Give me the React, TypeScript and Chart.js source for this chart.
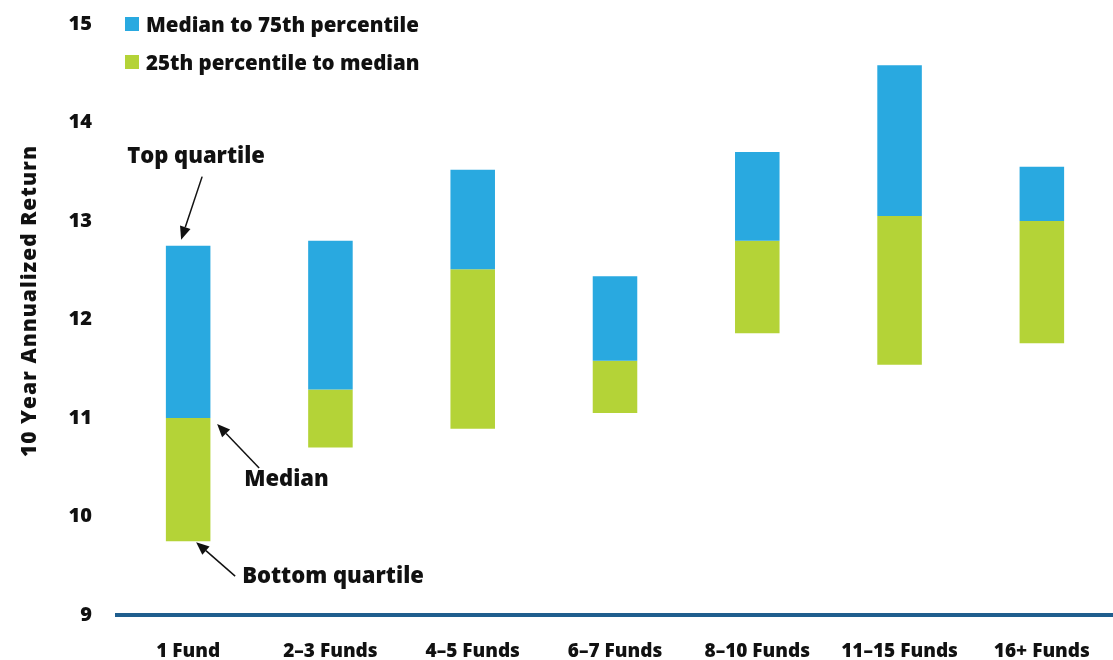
import React, { useEffect, useRef } from "react";
import { Chart, registerables } from "chart.js";

Chart.register(...registerables);

// Fund-count buckets along the x axis
const categories = ["1 Fund", "2–3 Funds", "4–5 Funds", "6–7 Funds", "8–10 Funds", "11–15 Funds", "16+ Funds"];

// 10-year annualized return quartiles (%) for each bucket
const lowerQuartile = [9.75, 10.7, 10.89, 11.05, 11.86, 11.54, 11.76];
const medianReturn = [11.0, 11.29, 12.51, 11.58, 12.8, 13.05, 13.0];
const upperQuartile = [12.75, 12.8, 13.52, 12.44, 13.7, 14.58, 13.55];

const yTicks = [9, 10, 11, 12, 13, 14, 15];

const seriesLabels = ["Median to 75th percentile", "25th percentile to median"];

const BLUE = "#29A9E0";
const GREEN = "#B4D337";
const AXIS_BLUE = "#1F5E8E";
const INK = "#111111";
const FONT = "'Open Sans', sans-serif";

function arrow(ctx: CanvasRenderingContext2D, x0: number, y0: number, x1: number, y1: number) {
  const ang = Math.atan2(y1 - y0, x1 - x0);
  const headLen = 13;
  const headHalf = 5.5;
  const bx = x1 - headLen * Math.cos(ang);
  const by = y1 - headLen * Math.sin(ang);
  ctx.save();
  ctx.strokeStyle = INK;
  ctx.fillStyle = INK;
  ctx.lineWidth = 1.5;
  ctx.beginPath();
  ctx.moveTo(x0, y0);
  ctx.lineTo(bx, by);
  ctx.stroke();
  ctx.beginPath();
  ctx.moveTo(x1, y1);
  ctx.lineTo(bx + headHalf * Math.sin(ang), by - headHalf * Math.cos(ang));
  ctx.lineTo(bx - headHalf * Math.sin(ang), by + headHalf * Math.cos(ang));
  ctx.closePath();
  ctx.fill();
  ctx.restore();
}

// Legend, axis title and the callouts on the first bar
const decorations = {
  id: "decorations",
  afterDraw(chart: any) {
    const { ctx } = chart;
    const xs = chart.scales.x;
    const ys = chart.scales.y;

    ctx.save();
    // legend
    ctx.font = `800 20.5px ${FONT}`;
    ctx.textAlign = "left";
    ctx.textBaseline = "alphabetic";
    const legendRows = [
      { color: BLUE, text: seriesLabels[0], base: 32 },
      { color: GREEN, text: seriesLabels[1], base: 70 },
    ];
    legendRows.forEach((r) => {
      ctx.fillStyle = r.color;
      ctx.fillRect(125, r.base - 15, 14, 14);
      ctx.fillStyle = INK;
      ctx.fillText(r.text, 146, r.base);
    });

    // y axis title
    ctx.save();
    ctx.translate(30, 301);
    ctx.rotate(-Math.PI / 2);
    ctx.font = `800 21px ${FONT}`;
    (ctx as any).letterSpacing = "1px";
    ctx.textAlign = "center";
    ctx.textBaseline = "middle";
    ctx.fillStyle = INK;
    ctx.fillText("10 Year Annualized Return", 0, 0);
    ctx.restore();

    // callouts anchored to the first bar
    const cx = xs.getPixelForValue(0);
    const yTop = ys.getPixelForValue(upperQuartile[0]);
    const yMed = ys.getPixelForValue(medianReturn[0]);
    const yLow = ys.getPixelForValue(lowerQuartile[0]);

    ctx.font = `800 22px ${FONT}`;
    ctx.fillStyle = INK;
    ctx.textAlign = "left";
    ctx.textBaseline = "alphabetic";
    ctx.fillText("Top quartile", cx - 61, yTop - 83);
    ctx.fillText("Median", cx + 56, yMed + 68);
    ctx.fillText("Bottom quartile", cx + 54, yLow + 42);

    arrow(ctx, cx + 14, yTop - 69, cx - 7, yTop - 6);
    arrow(ctx, cx + 71, yMed + 50, cx + 29, yMed + 6);
    arrow(ctx, cx + 47, yLow + 35, cx + 8, yLow + 1);
    ctx.restore();
  },
};

export default function App() {
  const canvasRef = useRef<HTMLCanvasElement | null>(null);

  useEffect(() => {
    if (!canvasRef.current) return;
    const chart = new Chart(canvasRef.current, {
      type: "bar",
      data: {
        labels: categories,
        datasets: [
          {
            label: seriesLabels[0],
            data: categories.map((_, i) => [medianReturn[i], upperQuartile[i]]) as any,
            backgroundColor: BLUE,
            borderWidth: 0,
            grouped: false,
          },
          {
            label: seriesLabels[1],
            data: categories.map((_, i) => [lowerQuartile[i], medianReturn[i]]) as any,
            backgroundColor: GREEN,
            borderWidth: 0,
            grouped: false,
          },
        ],
      },
      options: {
        responsive: false,
        animation: false,
        datasets: { bar: { categoryPercentage: 1, barPercentage: 0.313 } },
        layout: { padding: { top: 24, left: 0, right: 0, bottom: 0 } },
        plugins: {
          legend: { display: false },
          tooltip: { enabled: false },
          title: { display: false },
        },
        scales: {
          x: {
            grid: { display: false, drawTicks: false },
            border: { display: true, color: AXIS_BLUE, width: 4 },
            ticks: {
              color: INK,
              font: { family: FONT, size: 19, weight: 800 as any },
              padding: 25,
              maxRotation: 0,
              autoSkip: false,
            },
            afterFit: (scale: any) => {
              scale.height = 45;
              scale.paddingLeft = 0;
              scale.paddingRight = 0;
            },
          },
          y: {
            min: 9,
            max: 15,
            afterBuildTicks: (scale: any) => {
              scale.ticks = yTicks.map((v) => ({ value: v }));
            },
            grid: { display: false, drawTicks: false },
            border: { display: false },
            ticks: {
              color: INK,
              font: { family: FONT, size: 20, weight: 800 as any },
              padding: 25,
            },
            afterFit: (scale: any) => {
              scale.width = 117;
              scale.paddingTop = 12;
              scale.paddingBottom = 12;
            },
          },
        },
      },
      plugins: [decorations],
    });
    return () => chart.destroy();
  }, []);

  return (
    <div style={{ position: "fixed", left: 0, top: 0, width: 1113, height: 660, background: "#fff" }}>
      <canvas ref={canvasRef} width={1113} height={660} style={{ display: "block" }} />
    </div>
  );
}
